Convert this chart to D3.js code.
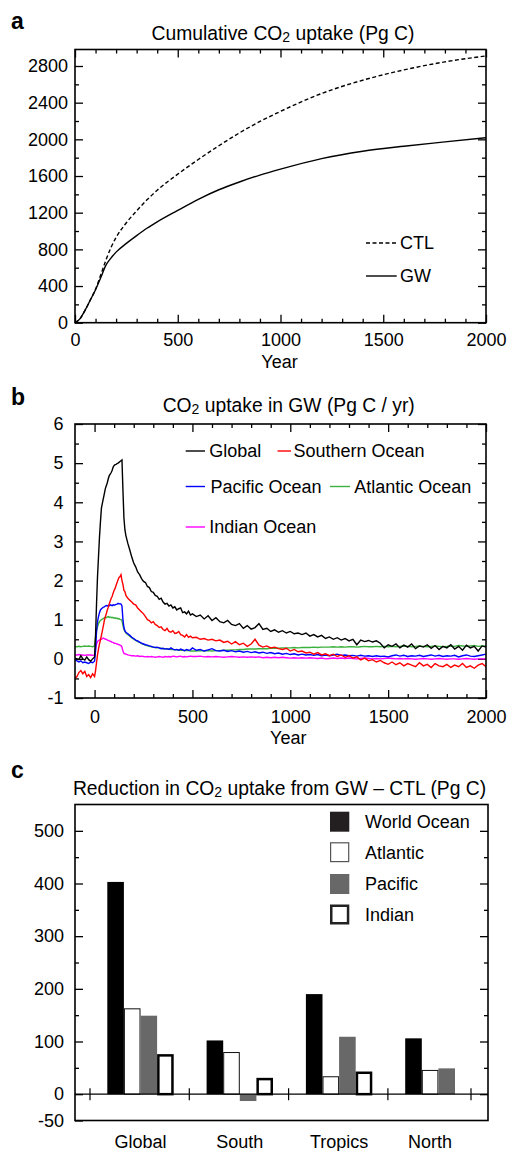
<!DOCTYPE html>
<html>
<head>
<meta charset="utf-8">
<title>Ocean CO2 uptake</title>
<style>
  body { margin: 0; padding: 0; background: white; font-family: "Liberation Sans", Arial, sans-serif; }
  svg text { font-family: "Liberation Sans", Arial, sans-serif; fill: black; }
  .frame { fill: none; stroke: black; stroke-width: 1.6; }
  .tick line { stroke: black; stroke-width: 1.3; }
  .tick text { font-size: 18px; }
  .title { font-size: 19.3px; }
  .panel { font-size: 23px; font-weight: bold; }
  .lbl { font-size: 18px; }
  .series { fill: none; stroke-width: 1.4; }
</style>
</head>
<body>
<div id="chart"></div>
<script src="https://d3js.org/d3.v7.min.js"></script>
<script>
// ---- panel a : cumulative uptake (Pg C)
var yearsA = [0,25,50,75,100,125,150,175,200,250,300,350,400,500,600,700,800,900,1000,1200,1400,1600,1800,2000];
var ctl = [0,45,140,250,365,520,680,820,930,1090,1220,1340,1445,1620,1780,1930,2070,2195,2305,2500,2645,2757,2845,2910];
var gw  = [0,45,140,250,360,490,625,705,770,865,950,1030,1100,1225,1346,1450,1535,1610,1675,1790,1870,1925,1972,2018];

// ---- panel b : uptake rate in GW (Pg C / yr)
var yearsB = [-100,-90,-80,-70,-60,-50,-40,-30,-20,-10,0,
  5,10,15,20,25,30,35,40,45,50,55,60,65,70,75,80,85,90,95,100,105,110,115,120,125,130,135,140,145,150,155,160,
  170,180,190,200,210,220,230,240,250,260,270,280,290,300,310,320,330,340,350,360,370,380,390,400,410,420,430,440,450,460,470,480,490,500,
  520,540,560,580,600,620,640,660,680,700,720,740,760,780,800,820,840,860,880,900,920,940,960,980,1000,
  1020,1040,1060,1080,1100,1120,1140,1160,1180,1200,1220,1240,1260,1280,1300,1320,1340,1360,1380,1400,
  1420,1440,1460,1480,1500,1520,1540,1560,1580,1600,1620,1640,1660,1680,1700,1720,1740,1760,1780,1800,
  1820,1840,1860,1880,1900,1920,1940,1960,1980,2000];

var globalB = [0.02,0.0,-0.02,0.08,0.0,-0.03,0.05,-0.02,-0.06,0.0,0.05,
  0.6,1.4,2.1,2.6,3.1,3.5,3.85,3.98,4.1,4.22,4.35,4.42,4.5,4.6,4.68,4.72,4.76,4.82,4.9,4.94,4.96,4.97,4.99,5.0,5.02,5.04,5.06,5.08,4.3,3.6,3.3,3.15,
  2.95,2.78,2.60,2.45,2.35,2.22,2.15,2.05,1.98,1.95,1.85,1.82,1.72,1.70,1.62,1.60,1.52,1.55,1.45,1.40,1.42,1.35,1.38,1.30,1.33,1.25,1.28,1.30,1.18,1.20,1.15,1.22,1.12,1.15,
  1.08,1.12,1.02,1.10,0.98,1.05,0.95,0.92,0.98,0.88,0.85,0.90,0.78,0.85,0.76,0.80,0.90,0.75,0.78,0.70,0.74,0.68,0.72,0.66,0.70,
  0.64,0.66,0.62,0.66,0.58,0.62,0.56,0.60,0.52,0.56,0.50,0.54,0.48,0.52,0.46,0.50,0.36,0.48,0.44,0.47,
  0.43,0.46,0.40,0.28,0.36,0.32,0.38,0.28,0.35,0.30,0.38,0.26,0.33,0.30,0.36,0.27,0.34,0.24,0.32,0.28,
  0.36,0.25,0.32,0.22,0.35,0.28,0.32,0.20,0.33,0.30];

var southernB = [-0.5,-0.45,-0.35,-0.3,-0.38,-0.32,-0.45,-0.4,-0.48,-0.38,-0.45,
  -0.3,-0.1,0.1,0.25,0.38,0.48,0.6,0.72,0.85,0.98,1.08,1.15,1.25,1.32,1.4,1.48,1.55,1.6,1.68,1.75,1.8,1.88,1.95,2.02,2.08,2.1,2.15,2.0,1.9,1.75,1.72,1.62,
  1.55,1.50,1.45,1.40,1.38,1.30,1.25,1.20,1.15,1.08,1.00,0.98,0.92,0.95,0.88,0.85,0.80,0.82,0.75,0.72,0.78,0.70,0.68,0.72,0.65,0.66,0.70,0.62,0.60,0.56,0.62,0.55,0.58,0.54,
  0.55,0.50,0.52,0.48,0.50,0.46,0.48,0.42,0.45,0.38,0.44,0.36,0.40,0.32,0.38,0.50,0.35,0.30,0.33,0.28,0.30,0.26,0.24,0.27,0.20,
  0.24,0.18,0.20,0.15,0.17,0.12,0.16,0.10,0.13,0.08,0.12,0.06,0.10,0.04,0.08,0.02,0.05,-0.03,0.02,-0.05,
  -0.02,-0.08,-0.04,-0.10,-0.14,-0.08,-0.15,-0.10,-0.18,-0.12,-0.16,-0.20,-0.10,-0.18,-0.14,-0.22,-0.12,-0.18,-0.20,-0.14,
  -0.22,-0.16,-0.20,-0.12,-0.22,-0.18,-0.24,-0.16,-0.12,-0.20];

var pacificB = [-0.02,-0.05,-0.08,-0.05,-0.1,-0.08,-0.1,-0.12,-0.08,-0.1,-0.06,
  0.2,0.7,0.95,1.08,1.18,1.25,1.28,1.3,1.32,1.33,1.35,1.36,1.35,1.37,1.36,1.38,1.37,1.36,1.38,1.37,1.38,1.39,1.4,1.42,1.4,1.41,1.4,1.35,1.0,0.8,0.72,0.68,
  0.64,0.60,0.55,0.52,0.48,0.46,0.43,0.40,0.38,0.36,0.35,0.33,0.32,0.30,0.29,0.30,0.28,0.26,0.27,0.25,0.26,0.24,0.28,0.25,0.23,0.24,0.22,0.25,0.23,0.21,0.24,0.22,0.23,0.28,
  0.22,0.24,0.20,0.23,0.26,0.21,0.20,0.22,0.19,0.21,0.18,0.20,0.17,0.19,0.16,0.18,0.15,0.17,0.14,0.16,0.13,0.15,0.12,0.14,0.11,
  0.13,0.10,0.12,0.10,0.11,0.09,0.11,0.08,0.10,0.08,0.10,0.12,0.09,0.10,0.08,0.09,0.07,0.09,0.07,0.08,
  0.06,0.08,0.06,0.07,0.05,0.08,0.10,0.07,0.09,0.06,0.08,0.07,0.09,0.06,0.08,0.10,0.07,0.09,0.06,0.08,
  0.07,0.09,0.05,0.08,0.10,0.07,0.06,0.08,0.10,0.12];

var atlanticB = [0.31,0.31,0.32,0.31,0.32,0.33,0.32,0.33,0.32,0.31,0.33,
  0.55,0.72,0.82,0.9,0.95,0.98,1.0,1.02,1.03,1.05,1.06,1.05,1.07,1.08,1.06,1.07,1.05,1.06,1.05,1.04,1.05,1.03,1.04,1.02,1.03,1.01,1.0,0.98,0.85,0.75,0.7,0.66,
  0.62,0.58,0.54,0.50,0.47,0.44,0.42,0.39,0.37,0.35,0.33,0.32,0.31,0.30,0.29,0.28,0.28,0.27,0.26,0.26,0.25,0.25,0.24,0.24,0.23,0.23,0.22,0.22,0.22,0.21,0.21,0.21,0.20,0.20,
  0.20,0.21,0.20,0.21,0.20,0.21,0.21,0.22,0.22,0.23,0.23,0.24,0.24,0.25,0.25,0.25,0.26,0.26,0.26,0.27,0.27,0.27,0.28,0.28,0.28,
  0.29,0.28,0.29,0.29,0.29,0.30,0.29,0.30,0.30,0.30,0.31,0.30,0.31,0.30,0.31,0.31,0.30,0.31,0.32,0.31,
  0.31,0.32,0.31,0.32,0.31,0.32,0.31,0.32,0.33,0.32,0.31,0.32,0.33,0.32,0.31,0.32,0.33,0.32,0.31,0.32,
  0.33,0.32,0.34,0.33,0.32,0.33,0.34,0.32,0.33,0.33];

var indianB = [0.1,0.1,0.11,0.1,0.1,0.09,0.1,0.1,0.1,0.09,0.1,
  0.25,0.38,0.44,0.47,0.48,0.5,0.5,0.52,0.53,0.52,0.5,0.5,0.48,0.47,0.46,0.45,0.44,0.42,0.42,0.4,0.4,0.39,0.38,0.37,0.36,0.35,0.34,0.3,0.2,0.14,0.13,0.12,
  0.10,0.09,0.08,0.08,0.07,0.08,0.06,0.07,0.06,0.05,0.06,0.05,0.06,0.05,0.04,0.05,0.06,0.05,0.04,0.06,0.05,0.06,0.05,0.07,0.06,0.05,0.06,0.07,0.05,0.06,0.05,0.06,0.07,0.06,
  0.06,0.07,0.05,0.06,0.05,0.06,0.05,0.04,0.05,0.06,0.05,0.04,0.05,0.04,0.05,0.04,0.05,0.03,0.04,0.03,0.04,0.03,0.04,0.03,0.02,
  0.03,0.02,0.03,0.02,0.03,0.02,0.01,0.02,0.00,0.01,0.02,0.01,0.02,0.01,0.02,0.01,0.00,0.01,0.02,0.01,
  0.00,0.01,0.00,0.01,0.02,0.01,0.00,0.01,0.00,0.01,0.00,-0.01,0.00,0.01,0.00,-0.01,0.00,0.01,0.00,-0.01,
  0.00,0.00,-0.01,0.00,0.01,0.00,-0.01,0.00,0.00,0.00];

// ---- panel c : reduction GW - CTL (Pg C)
var regions = ["Global", "South", "Tropics", "North"];
var basins = ["World Ocean", "Atlantic", "Pacific", "Indian"];
var worldOcean = [403, 102, 190, 106];
var atlantic = [163, 80, 34, 46];
var pacific = [149, -13, 109, 49];
var indian = [76, 31, 43, null];

var svg = d3.select("#chart").append("svg")
    .attr("width", 511)
    .attr("height", 1151);

function addAxis(axis, tx, ty) {
    svg.append("g")
        .attr("transform", "translate(" + tx + "," + ty + ")")
        .call(axis)
        .call(function (g) { g.select(".domain").remove(); });
}

function co2Title(x, y, before, after) {
    var t = svg.append("text").attr("class", "title")
        .attr("x", x).attr("y", y).attr("text-anchor", "middle");
    t.append("tspan").text(before + "CO");
    t.append("tspan").attr("font-size", "14px").attr("dy", 2).text("2");
    t.append("tspan").attr("dy", -2).text(after);
}

function fmt(d) { return String(d); }

// ================= panel a =================
var xA = d3.scaleLinear().domain([0, 2000]).range([75, 486]);
var yA = d3.scaleLinear().domain([0, 2980]).range([322.7, 49.5]);

var majA = [0, 500, 1000, 1500, 2000];
var minA = d3.range(100, 2000, 100).filter(function (d) { return d % 500; });
addAxis(d3.axisBottom(xA).tickValues(majA).tickSize(-8).tickPadding(11).tickFormat(fmt), 0, yA(0));
addAxis(d3.axisBottom(xA).tickValues(minA).tickSize(-4).tickFormat(""), 0, yA(0));
addAxis(d3.axisTop(xA).tickValues(majA).tickSize(-8).tickFormat(""), 0, yA.range()[1]);
addAxis(d3.axisTop(xA).tickValues(minA).tickSize(-4).tickFormat(""), 0, yA.range()[1]);

var majAy = d3.range(0, 2801, 400);
var minAy = d3.range(200, 2980, 400);
addAxis(d3.axisLeft(yA).tickValues(majAy).tickSize(-8).tickPadding(7).tickFormat(fmt), 75, 0);
addAxis(d3.axisLeft(yA).tickValues(minAy).tickSize(-4).tickFormat(""), 75, 0);
addAxis(d3.axisRight(yA).tickValues(majAy).tickSize(-8).tickFormat(""), 486, 0);
addAxis(d3.axisRight(yA).tickValues(minAy).tickSize(-4).tickFormat(""), 486, 0);

var lineA = d3.line()
    .x(function (d, i) { return xA(yearsA[i]); })
    .y(function (d) { return yA(d); })
    .curve(d3.curveMonotoneX);

svg.append("path").datum(ctl).attr("class", "series")
    .attr("stroke", "black").attr("stroke-dasharray", "4,2.5").attr("d", lineA);
svg.append("path").datum(gw).attr("class", "series")
    .attr("stroke", "black").attr("d", lineA);

svg.append("rect").attr("class", "frame")
    .attr("x", 75).attr("y", 49.5).attr("width", 411).attr("height", 322.7 - 49.5);

// legend a
svg.append("line").attr("x1", 366).attr("x2", 396.7).attr("y1", 243).attr("y2", 243)
    .attr("stroke", "black").attr("stroke-width", 1.4).attr("stroke-dasharray", "4,2.5");
svg.append("text").attr("class", "lbl").attr("font-size", "19px").attr("x", 400).attr("y", 243).attr("dy", "0.35em").text("CTL");
svg.append("line").attr("x1", 366).attr("x2", 396.7).attr("y1", 276).attr("y2", 276)
    .attr("stroke", "black").attr("stroke-width", 1.4);
svg.append("text").attr("class", "lbl").attr("font-size", "19px").attr("x", 400).attr("y", 276).attr("dy", "0.35em").text("GW");

svg.append("text").attr("class", "panel").attr("x", 11).attr("y", 29).text("a");
co2Title(283, 39.5, "Cumulative ", " uptake (Pg C)");
svg.append("text").attr("class", "lbl").attr("x", 279.5).attr("y", 368).attr("text-anchor", "middle").text("Year");

// ================= panel b =================
var xB = d3.scaleLinear().domain([-100, 2000]).range([75, 486]);
var yB = d3.scaleLinear().domain([-1, 6]).range([698, 424]);

var majB = [0, 500, 1000, 1500, 2000];
var minB = d3.range(100, 2000, 100).filter(function (d) { return d % 500; });
addAxis(d3.axisBottom(xB).tickValues(majB).tickSize(-8).tickPadding(12.5).tickFormat(fmt), 0, 698);
addAxis(d3.axisBottom(xB).tickValues(minB).tickSize(-4).tickFormat(""), 0, 698);
addAxis(d3.axisTop(xB).tickValues(majB).tickSize(-8).tickFormat(""), 0, 424);
addAxis(d3.axisTop(xB).tickValues(minB).tickSize(-4).tickFormat(""), 0, 424);

var majBy = d3.range(-1, 7, 1);
var minBy = d3.range(-0.5, 6, 1);
addAxis(d3.axisLeft(yB).tickValues(majBy).tickSize(-8).tickPadding(11.5).tickFormat(fmt), 75, 0);
addAxis(d3.axisLeft(yB).tickValues(minBy).tickSize(-4).tickFormat(""), 75, 0);
addAxis(d3.axisRight(yB).tickValues(majBy).tickSize(-8).tickFormat(""), 486, 0);
addAxis(d3.axisRight(yB).tickValues(minBy).tickSize(-4).tickFormat(""), 486, 0);

svg.append("clipPath").attr("id", "clipB").append("rect")
    .attr("x", 75).attr("y", 424).attr("width", 411).attr("height", 274);

var lineB = d3.line()
    .x(function (d, i) { return xB(yearsB[i]); })
    .y(function (d) { return yB(d); });

var seriesB = [
    { name: "Indian Ocean", values: indianB, color: "#ff00ff" },
    { name: "Atlantic Ocean", values: atlanticB, color: "#3cb03c" },
    { name: "Pacific Ocean", values: pacificB, color: "#0000ff" },
    { name: "Southern Ocean", values: southernB, color: "#ff0000" },
    { name: "Global", values: globalB, color: "#000000" }
];

svg.append("g").attr("clip-path", "url(#clipB)")
    .selectAll("path")
    .data(seriesB)
    .enter()
    .append("path")
    .attr("class", "series")
    .attr("stroke", function (d) { return d.color; })
    .attr("d", function (d) { return lineB(d.values); });

svg.append("rect").attr("class", "frame")
    .attr("x", 75).attr("y", 424).attr("width", 411).attr("height", 274);

// legend b
var legB = [
    { name: "Global", color: "#000000", x1: 185.7, x2: 205, tx: 209.3, y: 451 },
    { name: "Southern Ocean", color: "#ff0000", x1: 277.5, x2: 291, tx: 293.5, y: 451 },
    { name: "Pacific Ocean", color: "#0000ff", x1: 185.7, x2: 205, tx: 210.5, y: 486.5 },
    { name: "Atlantic Ocean", color: "#3cb03c", x1: 330, x2: 350, tx: 354.3, y: 486.5 },
    { name: "Indian Ocean", color: "#ff00ff", x1: 185.7, x2: 205, tx: 209.3, y: 527 }
];
legB.forEach(function (d) {
    svg.append("line").attr("x1", d.x1).attr("x2", d.x2).attr("y1", d.y).attr("y2", d.y)
        .attr("stroke", d.color).attr("stroke-width", 1.4);
    svg.append("text").attr("class", "lbl").attr("x", d.tx).attr("y", d.y).attr("dy", "0.35em").text(d.name);
});

svg.append("text").attr("class", "panel").attr("x", 11).attr("y", 405).text("b");
co2Title(288.7, 411.5, "", " uptake in GW (Pg C / yr)");
svg.append("text").attr("class", "lbl").attr("x", 288.3).attr("y", 743.5).attr("text-anchor", "middle").text("Year");

// ================= panel c =================
var yC = d3.scaleLinear().domain([-50, 550]).range([1120.5, 804.5]);
var xC = d3.scaleBand().domain(regions).range([90, 487.2]);
var xSub = d3.scaleBand().domain(basins).range([17.3, 83.7]);

var majCy = [-50, 0, 100, 200, 300, 400, 500];
var minCy = d3.range(50, 550, 100);
addAxis(d3.axisLeft(yC).tickValues(majCy).tickSize(-8).tickPadding(11).tickFormat(fmt), 75, 0);
addAxis(d3.axisLeft(yC).tickValues(minCy).tickSize(-4).tickFormat(""), 75, 0);
addAxis(d3.axisRight(yC).tickValues(majCy.slice(1)).tickSize(-8).tickFormat(""), 488, 0);
addAxis(d3.axisRight(yC).tickValues(minCy).tickSize(-4).tickFormat(""), 488, 0);

var barStyle = {
    "World Ocean": { fill: "#000000", stroke: "none", sw: 0 },
    "Atlantic": { fill: "#ffffff", stroke: "#111111", sw: 1 },
    "Pacific": { fill: "#686868", stroke: "none", sw: 0 },
    "Indian": { fill: "#ffffff", stroke: "#000000", sw: 2.5 }
};
var basinValues = [worldOcean, atlantic, pacific, indian];

var bars = [];
regions.forEach(function (r, i) {
    basins.forEach(function (b, j) {
        if (basinValues[j][i] !== null) bars.push({ region: r, basin: b, value: basinValues[j][i] });
    });
});

var gBars = svg.append("g");
gBars.selectAll("rect")
    .data(bars)
    .enter()
    .append("rect")
    .attr("x", function (d) { return xC(d.region) + xSub(d.basin) + barStyle[d.basin].sw / 2; })
    .attr("width", function (d) { return xSub.bandwidth() - barStyle[d.basin].sw; })
    .attr("y", function (d) { return Math.min(yC(d.value), yC(0)) + barStyle[d.basin].sw / 2; })
    .attr("height", function (d) { return Math.abs(yC(d.value) - yC(0)) - barStyle[d.basin].sw / 2; })
    .attr("fill", function (d) { return barStyle[d.basin].fill; })
    .attr("stroke", function (d) { return barStyle[d.basin].stroke; })
    .attr("stroke-width", function (d) { return barStyle[d.basin].sw; });

// zero line with category separators
svg.append("line").attr("x1", 75).attr("x2", 488).attr("y1", yC(0)).attr("y2", yC(0))
    .attr("stroke", "black").attr("stroke-width", 1.3);
var lastBars = bars.filter(function (d) { return d.region === regions[regions.length - 1]; });
var lastBar = lastBars[lastBars.length - 1];
var sepX = regions.map(function (r) { return xC(r); })
    .concat([xC(lastBar.region) + xSub(lastBar.basin) + xSub.bandwidth() + 16]);
svg.append("g").selectAll("line").data(sepX).enter().append("line")
    .attr("x1", function (d) { return d; }).attr("x2", function (d) { return d; })
    .attr("y1", yC(0) - 6).attr("y2", yC(0) + 6)
    .attr("stroke", "black").attr("stroke-width", 1.2);

// category labels centred on the drawn bars
regions.forEach(function (r) {
    var rb = bars.filter(function (d) { return d.region === r; });
    var x0 = xC(r) + xSub(rb[0].basin);
    var x1 = xC(r) + xSub(rb[rb.length - 1].basin) + xSub.bandwidth();
    svg.append("text").attr("class", "lbl").attr("x", (x0 + x1) / 2).attr("y", 1148)
        .attr("text-anchor", "middle").text(r);
});

svg.append("rect").attr("class", "frame")
    .attr("x", 75).attr("y", 804.5).attr("width", 413).attr("height", 1120.5 - 804.5);

// legend c
var legC = [
    { name: "World Ocean", fill: "#231f20", stroke: "none", sw: 0, y: 821.7 },
    { name: "Atlantic", fill: "#ffffff", stroke: "#555555", sw: 1.2, y: 852.2 },
    { name: "Pacific", fill: "#686868", stroke: "none", sw: 0, y: 884 },
    { name: "Indian", fill: "#ffffff", stroke: "#222222", sw: 2.5, y: 914.5 }
];
legC.forEach(function (d) {
    svg.append("rect")
        .attr("x", 330 + d.sw / 2).attr("y", d.y - 10 + d.sw / 2)
        .attr("width", 19.3 - d.sw).attr("height", 20 - d.sw)
        .attr("fill", d.fill).attr("stroke", d.stroke).attr("stroke-width", d.sw);
    svg.append("text").attr("class", "lbl").attr("font-size", "18.5px")
        .attr("x", 365).attr("y", d.y).attr("dy", "0.35em").text(d.name);
});

svg.append("text").attr("class", "panel").attr("x", 11).attr("y", 778).text("c");
co2Title(279.5, 795, "Reduction in ", " uptake from GW \u2013 CTL (Pg C)");
</script>
</body>
</html>
